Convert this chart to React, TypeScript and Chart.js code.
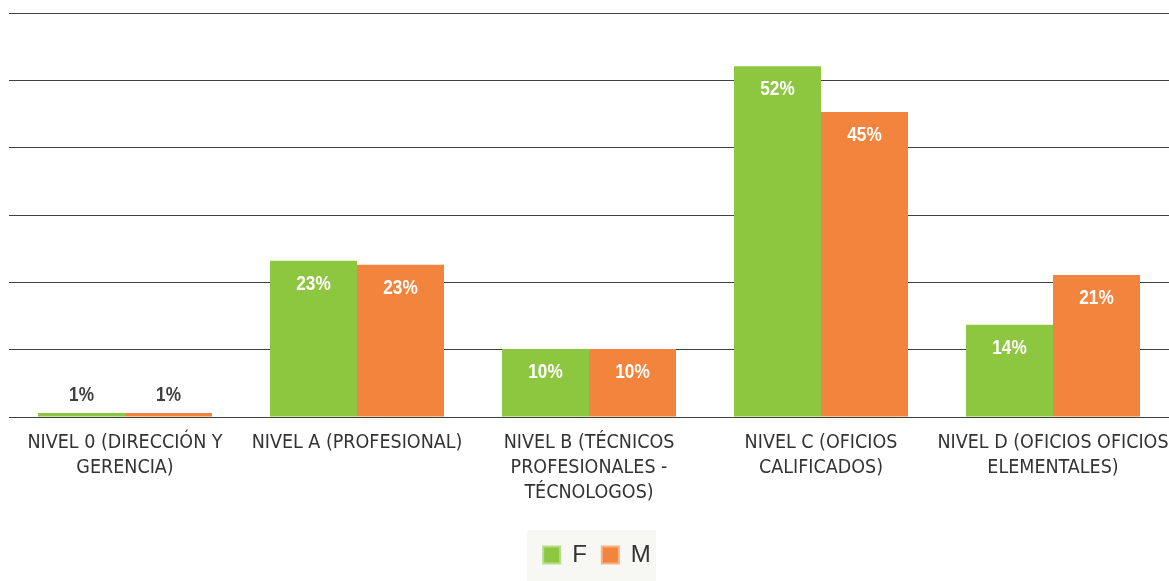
import React, { useEffect, useRef } from "react";
import { Chart, registerables } from "chart.js";

Chart.register(...registerables);

const categories: string[][] = [
  ["NIVEL 0 (DIRECCIÓN Y", "GERENCIA)"],
  ["NIVEL A (PROFESIONAL)"],
  ["NIVEL B (TÉCNICOS", "PROFESIONALES -", "TÉCNOLOGOS)"],
  ["NIVEL C (OFICIOS", "CALIFICADOS)"],
  ["NIVEL D (OFICIOS OFICIOS", "ELEMENTALES)"],
];
const seriesF: number[] = [0.6, 23.2, 10.1, 52.1, 13.7];
const seriesM: number[] = [0.6, 22.6, 10.1, 45.3, 21.1];
const seriesNames = ["F", "M"];
const colorF = "#8dc63f";
const colorM = "#f3843e";
const borderF = "#b9dc8c";
const borderM = "#f8b183";

const CONDENSED = "'Liberation Sans Narrow', 'Arial Narrow', 'DejaVu Sans Condensed', sans-serif";
const LEGEND_SHIFT = 8;

const valueLabels = {
  id: "valueLabels",
  afterDatasetsDraw(chart: any) {
    const ctx = chart.ctx;
    chart.data.datasets.forEach((ds: any, di: number) => {
      const meta = chart.getDatasetMeta(di);
      meta.data.forEach((bar: any, i: number) => {
        const v = ds.data[i];
        const text = Math.round(v) + "%";
        const h = bar.base - bar.y;
        let y: number;
        ctx.save();
        if (h < 30) {
          ctx.fillStyle = "#404040";
          y = bar.y - 18;
        } else {
          ctx.fillStyle = "#ffffff";
          y = bar.y + 23;
        }
        ctx.translate(bar.x, y);
        ctx.scale(0.82, 1);
        ctx.font = "bold 21px 'Liberation Sans', Arial, sans-serif";
        ctx.textAlign = "center";
        ctx.textBaseline = "middle";
        ctx.fillText(text, 0, 0);
        ctx.restore();
      });
    });
  },
};

const legendBg = {
  id: "legendBg",
  afterLayout(chart: any) {
    const lg = chart.legend;
    if (lg) {
      lg.left += LEGEND_SHIFT;
      lg.right += LEGEND_SHIFT;
    }
  },
  beforeDraw(chart: any) {
    const lg = chart.legend;
    if (!lg) return;
    const ctx = chart.ctx;
    const cx = (lg.left + lg.right) / 2;
    const cy = lg.top + 15 + 12;
    ctx.save();
    ctx.fillStyle = "#f7f7f4";
    ctx.fillRect(cx - 64 - LEGEND_SHIFT + 2, cy - 25, 129, 51);
    ctx.restore();
  },
};

export default function App() {
  const ref = useRef<HTMLCanvasElement | null>(null);
  useEffect(() => {
    document.body.style.margin = "0";
    const canvas = ref.current;
    if (!canvas) return;
    const chart = new Chart(canvas, {
      type: "bar",
      data: {
        labels: categories,
        datasets: [
          {
            label: seriesNames[0],
            data: seriesF,
            backgroundColor: colorF,
            borderWidth: 0,
            categoryPercentage: 0.75,
            barPercentage: 1.0,
          },
          {
            label: seriesNames[1],
            data: seriesM,
            backgroundColor: colorM,
            borderWidth: 0,
            categoryPercentage: 0.75,
            barPercentage: 1.0,
          },
        ],
      },
      options: {
        responsive: false,
        animation: false,
        maintainAspectRatio: false,
        layout: { padding: { left: 9, right: 0, top: 13, bottom: 4 } },
        plugins: {
          tooltip: { enabled: false },
          title: { display: false },
          legend: {
            position: "bottom",
            labels: {
              boxWidth: 17,
              boxHeight: 17,
              padding: 15,
              color: "#333333",
              font: { family: "'Liberation Sans', Arial, sans-serif", size: 24 },
              generateLabels: () => [
                { text: seriesNames[0], fillStyle: colorF, strokeStyle: borderF, lineWidth: 2, hidden: false, datasetIndex: 0, fontColor: "#333333" },
                { text: seriesNames[1], fillStyle: colorM, strokeStyle: borderM, lineWidth: 2, hidden: false, datasetIndex: 1, fontColor: "#333333" },
              ],
            },
          },
        },
        scales: {
          x: {
            grid: { display: false, drawTicks: false },
            border: { display: false },
            ticks: {
              color: "#333333",
              padding: 13,
              maxRotation: 0,
              autoSkip: false,
              font: { family: CONDENSED, size: 19.5, lineHeight: 25 / 19.5 },
            },
            afterFit: (scale: any) => {
              scale.height = 111;
              scale.paddingLeft = 0;
              scale.paddingRight = 0;
            },
          },
          y: {
            min: 0,
            max: 60,
            ticks: { display: false, stepSize: 10 },
            grid: { color: "#404040", lineWidth: 1, drawTicks: false },
            border: { display: false },
            afterFit: (scale: any) => {
              scale.width = 0;
              scale.paddingTop = 0;
              scale.paddingBottom = 0;
            },
          },
        },
      },
      plugins: [valueLabels, legendBg],
    });
    return () => chart.destroy();
  }, []);
  return (
    <div style={{ width: 1169, height: 581 }}>
      <canvas ref={ref} width={1169} height={581} style={{ display: "block" }} />
    </div>
  );
}
